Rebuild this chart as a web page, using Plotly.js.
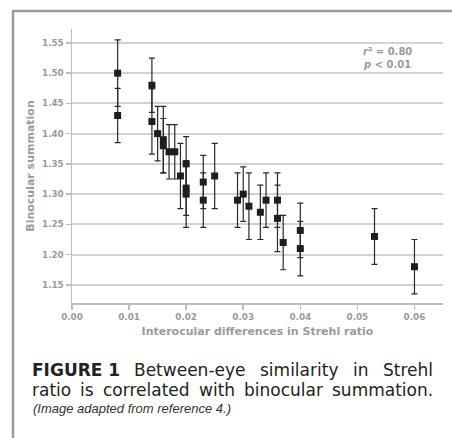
<!DOCTYPE html>
<html>
<head>
<meta charset="utf-8">
<script src="https://cdn.plot.ly/plotly-3.0.1.min.js"></script>
<style>html,body{margin:0;padding:0;background:#fff;}#chart{width:452px;height:438px;}</style>
</head>
<body>
<div id="chart"></div>
<script>
// Data
var strehlDiff = [0.008,0.008,0.014,0.014,0.015,0.016,0.016,0.017,0.018,0.019,0.020,0.020,0.020,0.023,0.023,0.025,0.029,0.030,0.031,0.033,0.034,0.036,0.036,0.037,0.040,0.040,0.053,0.060];
var binocularSummation = [1.50,1.43,1.48,1.42,1.40,1.39,1.38,1.37,1.37,1.33,1.35,1.31,1.30,1.32,1.29,1.33,1.29,1.30,1.28,1.27,1.29,1.29,1.26,1.22,1.24,1.21,1.23,1.18];
var errorSize = [0.055,0.045,0.045,0.054,0.045,0.055,0.045,0.045,0.045,0.054,0.045,0.045,0.055,0.044,0.045,0.054,0.045,0.045,0.055,0.045,0.045,0.045,0.055,0.045,0.045,0.045,0.046,0.045];
var xTickVals = [0,0.01,0.02,0.03,0.04,0.05,0.06];
var xTickText = ['0.00','0.01','0.02','0.03','0.04','0.05','0.06'];
var yTickVals = [1.15,1.20,1.25,1.30,1.35,1.40,1.45,1.50,1.55];
var yTickText = ['1.15','1.20','1.25','1.30','1.35','1.40','1.45','1.50','1.55'];
var statLines = ['<b><i>r</i>² = 0.80</b>','<b><i>p</i> &lt; 0.01</b>'];
var captionLine1 = [['FIGURE 1', true],['Between-eye', false],['similarity', false],['in', false],['Strehl', false]];
var captionLine2 = [['ratio', false],['is', false],['correlated', false],['with', false],['binocular', false],['summation.', false]];
var captionLine3 = '<i>(Image adapted from reference 4.)</i>';

var L = 72, T = 29, W = 371, H = 274;
function px(x){ return (x - L) / W; }
function py(y){ return (T + H - y) / H; }

var gray = '#9a9a9a';
var dv = 'DejaVu Sans';
var capSize = 17;

var cv = document.createElement('canvas').getContext('2d');
function measure(txt, bold, size){
  cv.font = (bold ? 'bold ' : '') + size + 'px "' + dv + '"';
  return cv.measureText(txt).width;
}

var annotations = [];
annotations.push({xref:'paper', yref:'paper', x:px(362), y:py(51), xanchor:'left', yanchor:'middle', showarrow:false, borderpad:0, text:statLines[0], font:{family:dv, size:10, color:gray}});
annotations.push({xref:'paper', yref:'paper', x:px(362), y:py(65), xanchor:'left', yanchor:'middle', showarrow:false, borderpad:0, text:statLines[1], font:{family:dv, size:10, color:gray}});

function justify(words, y, left, right){
  var widths = words.map(function(w){ return measure(w[0], w[1], capSize); });
  var total = widths.reduce(function(a,b){return a+b;},0);
  var gap = (right - left - total) / (words.length - 1);
  var x = left;
  words.forEach(function(w,i){
    annotations.push({xref:'paper', yref:'paper', x:px(x), y:py(y), xanchor:'left', yanchor:'middle', showarrow:false,
      borderpad:0, borderwidth:0, text: w[1] ? '<b>'+w[0]+'</b>' : w[0], font:{family:dv, size:capSize, color:'#222'}});
    x += widths[i] + gap;
  });
}
justify(captionLine1, 370, 32, 433);
justify(captionLine2, 389.5, 32, 433);
annotations.push({xref:'paper', yref:'paper', x:px(32), y:py(408), xanchor:'left', yanchor:'middle', showarrow:false, borderpad:0, text:captionLine3, font:{family:'Liberation Sans Narrow, Liberation Sans, Arial, sans-serif', size:13, color:'#333'}});

var trace = {
  x: strehlDiff, y: binocularSummation, type:'scatter', mode:'markers',
  marker:{symbol:'square', size:7, color:'#1e1e1e'},
  error_y:{type:'data', array:errorSize, visible:true, color:'#2a2a2a', thickness:1.2, width:3},
  hoverinfo:'skip'
};

var layout = {
  width:452, height:438,
  margin:{l:L, r:452-L-W, t:T, b:438-T-H, pad:0},
  paper_bgcolor:'#fff', plot_bgcolor:'#fff',
  showlegend:false,
  xaxis:{range:[0,0.065], tickvals:xTickVals, ticktext:xTickText, showgrid:false, zeroline:false,
    showline:true, linecolor:'#bdbdbd', linewidth:1.5, ticks:'outside', ticklen:5, tickcolor:'#bdbdbd', tickwidth:1.5,
    tickfont:{family:dv, size:8.8, color:gray, weight:'bold'},
    title:{text:'<b>Interocular differences in Strehl ratio</b>', font:{family:dv, size:11, color:gray}, standoff:6}},
  yaxis:{range:[1.12,1.573], tickvals:yTickVals, ticktext:yTickText, showgrid:true, gridcolor:'#d2d2d2', gridwidth:2, zeroline:false,
    showline:true, linecolor:'#bdbdbd', linewidth:1.5, ticks:'outside', ticklen:5, tickcolor:'#bdbdbd', tickwidth:1.5,
    tickfont:{family:dv, size:8.8, color:gray, weight:'bold'},
    title:{text:'<b>Binocular summation</b>', font:{family:dv, size:11, color:gray}, standoff:5}},
  shapes:[
    {type:'line', xref:'paper', yref:'paper', x0:px(13), x1:px(460), y0:py(11), y1:py(11), line:{color:'#9a9a9a', width:2.5}},
    {type:'line', xref:'paper', yref:'paper', x0:px(13), x1:px(13), y0:py(10), y1:py(445), line:{color:'#9a9a9a', width:2.5}}
  ],
  annotations: annotations
};

Plotly.newPlot('chart',[trace],layout,{displayModeBar:false, staticPlot:true});
</script>
</body>
</html>
